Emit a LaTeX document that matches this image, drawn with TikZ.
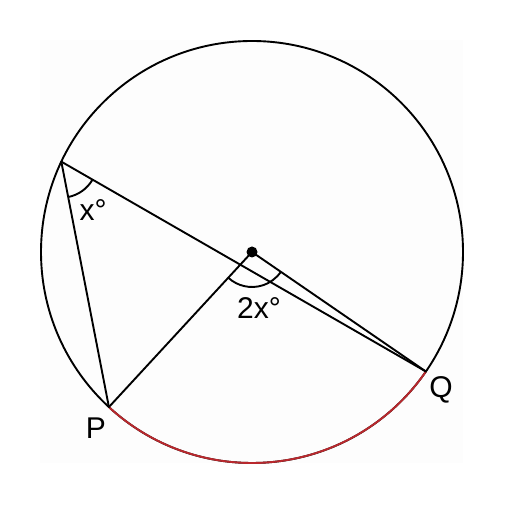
\documentclass[tikz,border=0pt]{standalone}
\usepackage{fontspec}
\setmainfont{Liberation Sans}
\usetikzlibrary{angles}
\definecolor{arcred}{RGB}{185,40,45}
\definecolor{bgpanel}{RGB}{253,253,253}
\begin{document}
\begin{tikzpicture}[x=1pt,y=1pt,
  seg/.style={line width=1.9pt,line cap=round},
  lbl/.style={font=\fontsize{30}{33}\selectfont,inner sep=0pt}]
\useasboundingbox (0,0) rectangle (504,505);
\fill[bgpanel] (40,42) rectangle (463,465);
\coordinate (O) at (252,253);
\path (O) ++(154.65:211) coordinate (A);
\path (O) ++(227.3:211) coordinate (P);
\path (O) ++(325.5:211) coordinate (Q);
\draw[seg] (O) circle (211);
\draw[seg,arcred] (P) arc (227.3:325.5:211);
\draw[seg] (A) -- (P);
\draw[seg] (A) -- (Q);
\draw[seg] (O) -- (P);
\draw[seg] (O) -- (Q);
\pic[draw,line width=1.9pt,angle radius=36] {angle = P--A--Q};
\pic[draw,line width=1.9pt,angle radius=35] {angle = P--O--Q};
\fill (O) circle (5.5);
\node[lbl] (lx) at (93,295) {x°};
\node[lbl] (l2x) at (259,197) {2x°};
\node[lbl] (lP) at (96,77) {P};
\node[lbl] (lQ) at (441,115) {Q};
\end{tikzpicture}
\end{document}
